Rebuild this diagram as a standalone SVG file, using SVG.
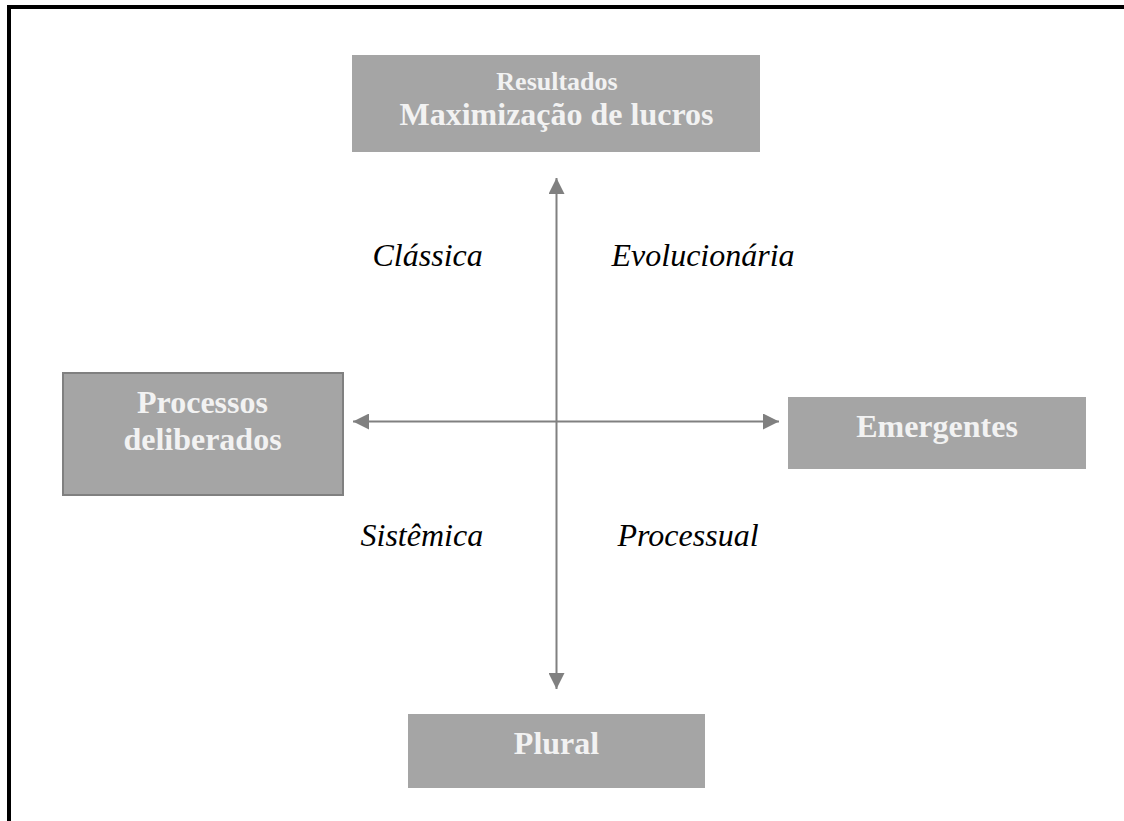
<svg xmlns="http://www.w3.org/2000/svg" width="1124" height="821" viewBox="0 0 1124 821">
<style>
.box{fill:#a5a5a5}
.lbl{font-family:"Liberation Serif","Times New Roman",serif;font-weight:bold;fill:#f2f2f2;text-anchor:middle}
.q{font-family:"Liberation Serif","Times New Roman",serif;font-style:italic;font-size:32px;fill:#000}
.ax{stroke:#808080;stroke-width:2;fill:none;marker-start:url(#ah);marker-end:url(#ah)}
</style>
<defs>
<marker id="ah" markerUnits="userSpaceOnUse" markerWidth="16" markerHeight="16" viewBox="0 0 16 16" refX="16" refY="8" orient="auto-start-reverse">
<path d="M0,0 L16,8 L0,16 Z" fill="#808080"/>
</marker>
</defs>
<rect x="9" y="7" width="1130" height="830" fill="none" stroke="#000" stroke-width="4"/>
<g id="connectors">
<line class="ax" x1="556.5" y1="178" x2="556.5" y2="689"/>
<line class="ax" x1="353" y1="421.5" x2="779" y2="421.5"/>
</g>
<g id="top">
<rect class="box" x="352" y="55" width="408" height="97"/>
<text class="lbl" x="557" y="90" font-size="26">Resultados</text>
<text class="lbl" x="556.5" y="125" font-size="32">Maximização de lucros</text>
</g>
<g id="left">
<rect class="box" x="63" y="373" width="280" height="122" stroke="#808080" stroke-width="2"/>
<text class="lbl" x="202.5" y="412.5" font-size="32">Processos</text>
<text class="lbl" x="202.5" y="450" font-size="32">deliberados</text>
</g>
<g id="right">
<rect class="box" x="788" y="397" width="298" height="72"/>
<text class="lbl" x="937" y="436.5" font-size="32">Emergentes</text>
</g>
<g id="bottom">
<rect class="box" x="408" y="714" width="297" height="74"/>
<text class="lbl" x="556.5" y="753.5" font-size="32">Plural</text>
</g>
<g id="quadrants">
<text class="q" x="372.5" y="266">Clássica</text>
<text class="q" x="611.5" y="266">Evolucionária</text>
<text class="q" x="360.5" y="546">Sistêmica</text>
<text class="q" x="617.5" y="546">Processual</text>
</g>
</svg>
